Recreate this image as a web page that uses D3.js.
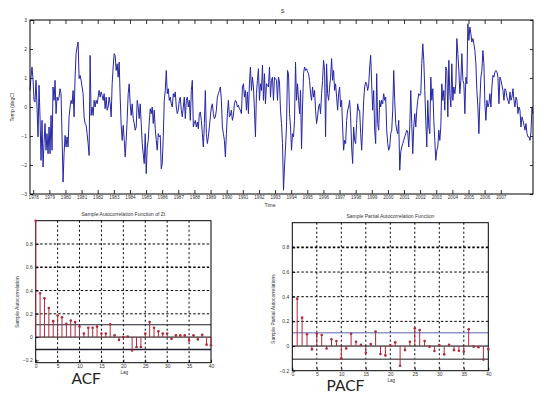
<!DOCTYPE html>
<html>
<head>
<meta charset="utf-8">
<script src="https://cdnjs.cloudflare.com/ajax/libs/d3/7.8.5/d3.min.js"></script>
<style>
body { margin: 0; background: #fff; }
svg { display: block; font-family: "Liberation Sans", Arial, sans-serif; }
</style>
</head>
<body>
<div id="chart"></div>
<script>
// tick labels of the time axis
var years = [1978, 1979, 1980, 1981, 1982, 1983, 1984, 1985, 1986, 1987, 1988, 1989, 1990, 1991, 1992,
    1993, 1994, 1995, 1996, 1997, 1998, 1999, 2000, 2001, 2002, 2003, 2004, 2005, 2006, 2007];

var startYear = 1977.8;
var endYear = 2009.0;

// temperature anomaly (degC)
var tempSeries = [
    0.57, 1.03, 1.38, 0.98, 0.23, 0.17, 0.92, 0, -1.03, 0.75, -0.34, -1.84, -0.46, -2.07, -1.26, -0.57, -1.49, -0.92, -1.61, -0.69,
    -1.61, -0.29, -1.49, 0.69, 0.23, 0.92, -0.23, 0.34, 0.23, 0.34, 0.63, 0.46, -1.03, -2.59, -1.61, -0.98, -1.38, -1.03, -1.38, -0.34,
    0, 0.23, 0.11, 0.57, -0.34, 1.03, 1.84, 2.07, 2.24, 0.98, 1.09, 0.92, 0.69, 0.46, -0.34, -0.57, -0.63, -0.92, -1.26, -1.67,
    1.78, -0.29, 0, -0.29, 0.23, 0, 0.23, 0.11, 0.34, 0.57, 0.34, 0.52, 0.40, 0.23, 0.46, -0.06, 0.34, -0.11, 0, 0.34,
    0.11, -0.34, 0.80, 1.38, 1.84, 1.78, 1.26, 1.49, 1.03, 1.55, 0.34, -0.63, -1.15, -0.63, -1.09, -1.72, -1.15, -0.40, 0.46, 0.80,
    0.11, -0.29, 0.11, -0.40, -0.57, -0.80, -0.69, 0.23, 0, -0.40, 0.11, -0.57, -1.26, -1.61, -1.95, -0.92, -2.30, -1.38, -1.15, -0.52,
    -0.06, -0.23, 0, -0.57, -0.11, -0.75, -1.15, -1.49, -0.92, -1.03, -0.98, -2.13, -1.95, -1.03, 0.23, 0.57, 1.26, 0.46, 0.63, 0.23,
    0.34, 0.11, 0, 0.46, 0.34, 0.52, 0, -0.23, -0.11,
    0.23, 0.34, -0.11, -0.34, 0, 0.34, -0.40, 0.23, 0.34, 0, 0.23, -0.46, 0.57, 0.92, -0.69, -0.57, -0.46, -0.69, -0.52, -0.75,
    -0.23, -0.17, -0.46, -0.92, -1.38, -0.57, 0.57, -0.92, -1.26, -1.03, -0.69, -0.34, 0, 0.11, -0.23, -0.40, -0.34, -0.11, 0.34, 0.46,
    0.57, 0.69, 0.23, -0.69, -0.92, -1.15, -1.72, -0.92, -0.23, 0.23, -0.34, -0.29, -0.11, -0.46, -0.29, 0.11, 0.23, 0.17, 0, 0.06,
    -0.06, -0.11, -0.23, 0.69, 0.80, 0.34, 0.57, -0.11, 0.52, -0.23, 0.80, 1.38, 0.57, 1.03, 0.69, -0.11, -1.03, 0.46, 0.92, 1.32,
    0.23, 0.80, 0.57, 1.44, 0.23, 1.15, 0.11, 0.80, 0.75, 0.69, 1.38, 0.34, 0.92, 1.03, 0.23, 1.03, 0.98, 0.92, 0.23, 1.03,
    0.86, -0.11, -0.57, -1.26, -2.87, -2.07, -1.38, -0.69, 1.26, 1.15, -0.23, -0.69, -1.49, -0.92, -1.03, -0.46, 1.55, 0.23, 0.80, 0.23,
    -0.23, 0.57, -1.44, 0, 1.15, 1.38, 1.26, 1.32, 1.21, 1.15, 0.92, 0.46, 0.23, 0.69, 0.34, 0.57, -0.11, -0.57, -0.34, 0,
    0.11, -0.23, 0.46, 0.92, 1.61, 1.26, -1.03, 1.49, 0.46, 0.23, 0.69, 1.03, 1.67, 0.92, 1.26, 0.57, 0.80, 0.34, -0.11, 0.46,
    0.69, 0, 0.23, -0.69, -1.49, -1.15, -1.26, -0.46, -0.11, 0, 0.23, -0.34, -1.38, -1.95, -0.69, -1.15, -1.26, -0.57, 0.11, -0.11,
    -0.11, -0.92, -1.49, -0.69, 0.23, 0.69, 0.86, 0.80, 0.57, 0.75, 1.38, 1.78, 0.80, -0.11, 0.57, -0.80, -1.26, 1.15, -0.57, -0.80,
    0.23, 0, 0.23, 0.11, 0.46, 0.23, 0.34, -0.80, -1.26, -1.49, -1.38, -0.92, -0.80, -0.11, 1.26, 0.23, -0.57, -0.80, -0.92, -0.46,
    -2.18, -1.55, -1.38, -1.26, -1.15, -1.03, -0.92, -0.80, -0.86, -1.38, -0.69, 0.57, -0.57, -1.61, -0.69, -0.23, -0.69, -0.11, 0.23, 0.46,
    0.40, 0.46, 1.49, 2.18, 1.61, 0.57, -0.46, -1.38, 0.23, -0.69, -0.92, 1.03, 0.23, 0.63, -0.46, -1.15, -1.84, -1.49, -1.38, -0.80,
    -1.15, -0.69, 0.80, 0.23, 0.57, -0.11, 1.38, 1.26, -0.34, 1.61, 0.46, 0, 1.49, 0.23, 0.69, 0.46, 0.80, 2.36, 1.84, 1.26,
    0.46, 0.92, 1.84, 0.92, 0.80, -0.23, 1.03, 0.80, 2.87, 2.30, 2.76, 2.53, 2.24, 2.36, 2.18, 1.95, 1.49, 0.57, 0, -0.92,
    0.23, 1.03, 1.26, 1.95, 1.49, 0.11, -0.46, 0.23, 0, 0.11, 0.46, 0, 0.69, 1.09, 1.03, 1.21, 1.26, 1.21, 1.03, 0.11,
    1.03, 0.92, 0.75, 0.57, 0.23, 0.63, 0.57, 0.34, 0.23, 0.11, 0.52, 0.23, 0.34, 0.63, 0.23, 0, 0.34, 0.23, -0.23, 0,
    -0.11, -0.69, -0.34, -0.46, -0.63, -0.80, -0.57, -0.92, -1.03, -1.03, -1.15, -0.86, 0, -0.23
];

// sample autocorrelation, lags 0..40
var acfValues = [1, 0.377, 0.334, 0.25, 0.137, 0.186, 0.171, 0.114, 0.143, 0.129, 0.09,
    0.03, 0.08, 0.08, 0.09, 0.03, 0.03, 0.11, 0.015, -0.025, 0.0,
    0.005, -0.115, -0.085, -0.085, 0.03, 0.13, 0.08, 0.05, 0.03, 0.03,
    -0.015, 0.015, 0.015, 0.015, -0.03, 0.015, -0.02, 0.02, -0.065, -0.07];

// sample partial autocorrelation, lags 1..40
var pacfValues = [0.384, 0.23, 0.095, -0.027, 0.1, 0.09, -0.02, 0.054, 0.04, -0.1,
    -0.02, 0.10, 0.035, 0.01, -0.055, 0.016, 0.117, -0.065, -0.076, 0.005,
    0.03, -0.16, -0.033, 0.035, 0.144, 0.13, 0.04, -0.005, -0.04, 0.008,
    -0.068, 0.01, -0.033, -0.038, -0.046, 0.136, -0.005, -0.01, -0.11, -0.027];

var acfBound = 0.106;
var pacfBound = 0.107;

var lagTicks = [0, 5, 10, 15, 20, 25, 30, 35, 40];
var corrTicks = [-0.2, 0, 0.2, 0.4, 0.6, 0.8];
var tempTicks = [-3, -2, -1, 0, 1, 2, 3];

var width = 540;
var height = 395;

var svg = d3.select('#chart')
    .append('svg')
    .attr('width', width)
    .attr('height', height);

// ---------- time series ----------
var ts = {left: 30, right: 533, top: 20, bottom: 194};

var x = d3.scaleLinear()
    .domain([startYear, endYear])
    .range([ts.left, ts.right]);

var y = d3.scaleLinear()
    .domain([-3, 3])
    .range([ts.bottom, ts.top]);

var step = (endYear - startYear) / (tempSeries.length - 1);

function styleAxis(g, fontSize) {
    g.select('.domain').remove();
    g.selectAll('.tick line').attr('stroke', '#000').attr('stroke-width', 0.8);
    g.selectAll('.tick text').attr('fill', '#333').style('font-size', fontSize + 'px');
}

svg.append('g')
    .attr('transform', 'translate(0,' + ts.bottom + ')')
    .call(d3.axisBottom(x).tickValues(years).tickFormat(d3.format('d')).tickSize(-4).tickPadding(1.5))
    .call(styleAxis, 4.6);

svg.append('g')
    .attr('transform', 'translate(0,' + ts.top + ')')
    .call(d3.axisTop(x).tickValues(years).tickFormat('').tickSize(-4))
    .call(styleAxis, 4.6);

svg.append('g')
    .attr('transform', 'translate(' + ts.left + ',0)')
    .call(d3.axisLeft(y).tickValues(tempTicks).tickFormat(d3.format('d')).tickSize(-3).tickPadding(3))
    .call(styleAxis, 5);

svg.append('g')
    .attr('transform', 'translate(' + ts.right + ',0)')
    .call(d3.axisRight(y).tickValues(tempTicks).tickFormat('').tickSize(-3))
    .call(styleAxis, 5);

var line = d3.line()
    .x(function (d, i) { return x(startYear + i * step); })
    .y(function (d) { return y(d); });

svg.append('path')
    .datum(tempSeries)
    .attr('d', line)
    .attr('fill', 'none')
    .attr('stroke', '#2626a4')
    .attr('stroke-width', 1);

svg.append('rect')
    .attr('x', ts.left).attr('y', ts.top)
    .attr('width', ts.right - ts.left).attr('height', ts.bottom - ts.top)
    .attr('fill', 'none').attr('stroke', '#000').attr('stroke-width', 1);

svg.append('text')
    .attr('x', (ts.left + ts.right) / 2 + 1).attr('y', 13)
    .attr('text-anchor', 'middle').style('font-size', '5.5px').attr('fill', '#222')
    .text('S');

svg.append('text')
    .attr('x', 270).attr('y', 207)
    .attr('text-anchor', 'middle').style('font-size', '5px').attr('fill', '#333')
    .text('Time');

svg.append('text')
    .attr('transform', 'translate(14,' + (ts.top + ts.bottom) / 2 + ') rotate(-90)')
    .attr('text-anchor', 'middle').style('font-size', '5px').attr('fill', '#333')
    .text('Temp (degC)');

// ---------- correlograms ----------
function corrPanel(box, firstLag, values, bound, title, ylabel, labelPos, boundColors) {
    var cx = d3.scaleLinear().domain([0, 40]).range([box.left, box.right]);
    var cy = d3.scaleLinear().domain([box.ymin, 1]).range([box.bottom, box.top]);
    var g = svg.append('g');

    g.selectAll('.vgrid')
        .data(lagTicks.slice(1, -1))
        .enter()
        .append('line')
        .attr('x1', function (d) { return cx(d); })
        .attr('x2', function (d) { return cx(d); })
        .attr('y1', box.top).attr('y2', box.bottom)
        .attr('stroke', '#000').attr('stroke-width', 1)
        .attr('stroke-dasharray', '2,2.5');

    g.selectAll('.hgrid')
        .data(corrTicks.filter(function (d) { return d > 0; }))
        .enter()
        .append('line')
        .attr('x1', box.left).attr('x2', box.right)
        .attr('y1', function (d) { return cy(d); })
        .attr('y2', function (d) { return cy(d); })
        .attr('stroke', '#000')
        .attr('stroke-width', function (d) { return d === box.boldGrid ? 1.6 : 1; })
        .attr('stroke-dasharray', '2.5,2');

    g.append('line')
        .attr('x1', box.left).attr('x2', box.right)
        .attr('y1', cy(0)).attr('y2', cy(0))
        .attr('stroke', '#000').attr('stroke-width', 1);

    g.selectAll('.bound')
        .data([bound, -bound])
        .enter()
        .append('line')
        .attr('x1', box.left).attr('x2', box.right)
        .attr('y1', function (d) { return cy(d); })
        .attr('y2', function (d) { return cy(d); })
        .attr('stroke', function (d, i) { return boundColors[i]; })
        .attr('stroke-width', function (d, i) { return i === 0 ? 1 : 1.4; });

    g.append('rect')
        .attr('x', box.left).attr('y', box.top)
        .attr('width', box.right - box.left).attr('height', box.bottom - box.top)
        .attr('fill', 'none').attr('stroke', '#000').attr('stroke-width', 1);

    var stems = g.selectAll('.stem')
        .data(values)
        .enter()
        .append('g');

    stems.append('line')
        .attr('x1', function (d, i) { return cx(i + firstLag); })
        .attr('x2', function (d, i) { return cx(i + firstLag); })
        .attr('y1', cy(0))
        .attr('y2', function (d) { return cy(d); })
        .attr('stroke', '#b2283a').attr('stroke-width', 1);

    stems.append('circle')
        .attr('cx', function (d, i) { return cx(i + firstLag); })
        .attr('cy', function (d) { return cy(d); })
        .attr('r', 1.3)
        .attr('fill', '#b2283a');

    g.append('g')
        .attr('transform', 'translate(0,' + box.bottom + ')')
        .call(d3.axisBottom(cx).tickValues(lagTicks).tickSize(-3).tickPadding(1.5))
        .call(styleAxis, 5);

    g.append('g')
        .attr('transform', 'translate(' + box.left + ',0)')
        .call(d3.axisLeft(cy).tickValues(corrTicks)
            .tickFormat(function (d) { return d === 0 ? '0' : d3.format('.1f')(d); })
            .tickSize(-3).tickPadding(3))
        .call(styleAxis, 5);

    g.append('text')
        .attr('x', (box.left + box.right) / 2).attr('y', box.top - 5)
        .attr('text-anchor', 'middle').style('font-size', '5px').attr('fill', '#333')
        .text(title);

    g.append('text')
        .attr('x', (box.left + box.right) / 2 + 1).attr('y', box.bottom + 11)
        .attr('text-anchor', 'middle').style('font-size', '4.6px').attr('fill', '#333')
        .text('Lag');

    g.append('text')
        .attr('transform', 'translate(' + (box.left - 17) + ',' + cy(0.3) + ') rotate(-90)')
        .attr('text-anchor', 'middle').style('font-size', '5px').attr('fill', '#333')
        .text(ylabel);

    svg.append('text')
        .attr('x', labelPos[0]).attr('y', labelPos[1])
        .style('font-family', 'Lato, "Open Sans", sans-serif')
        .style('font-size', '15.5px').attr('fill', '#222')
        .text(labelPos[2]);
}

corrPanel({left: 35.7, right: 211, top: 220.7, bottom: 362.7, ymin: -0.22, boldGrid: 0.6},
    0, acfValues, acfBound,
    'Sample Autocorrelation Function of Zt', 'Sample Autocorrelation',
    [71.5, 383.5, 'ACF'], ['#222233', '#222233']);

corrPanel({left: 292.3, right: 488.3, top: 222.7, bottom: 370.7, ymin: -0.2, boldGrid: 0.8},
    1, pacfValues, pacfBound,
    'Sample Partial Autocorrelation Function', 'Sample Partial Autocorrelations',
    [326.5, 390.5, 'PACF'], ['#5a64a8', '#666666']);
</script>
</body>
</html>
